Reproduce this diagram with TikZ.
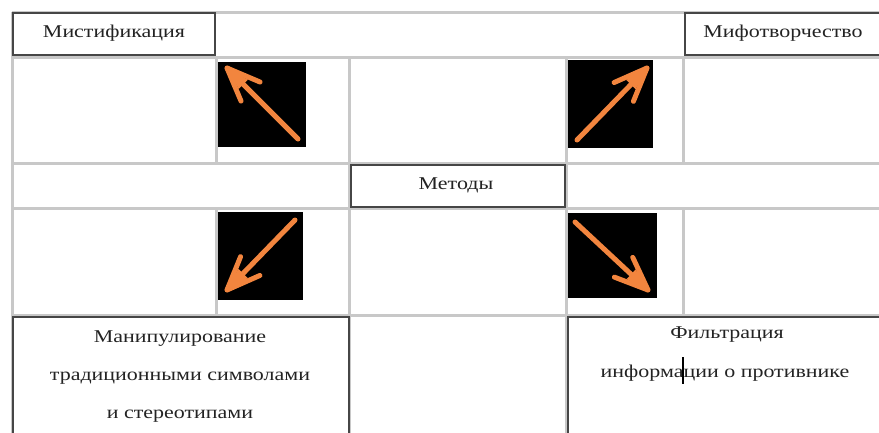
\documentclass[tikz,border=0pt]{standalone}
\usepackage{fontspec}
\newfontfamily\wfont[FakeStretch=1.22]{Liberation Serif}
\usetikzlibrary{calc}
\definecolor{gridgray}{RGB}{200,200,200}
\definecolor{boxgray}{RGB}{70,70,70}
\definecolor{txtgray}{RGB}{35,35,35}
\definecolor{arrorange}{RGB}{242,133,62}
\tikzset{
  gridline/.style={draw=gridgray, line width=3pt},
  cellbox/.style={draw=boxgray, fill=white, line width=1.8pt, rectangle, inner sep=0pt},
  lbl/.style={anchor=base, inner sep=0pt, text=txtgray, font=\wfont\fontsize{18}{20}\selectfont},
  iconsq/.style={fill=black, draw=none, rectangle, inner sep=0pt},
  shaft/.style={draw=arrorange, line width=5pt, line cap=round, line join=round},
}
\begin{document}
\begin{tikzpicture}[x=1pt,y=-1pt]
\useasboundingbox (0,0) rectangle (879,432);
\fill[white] (0,0) rectangle (879,432);
\clip (0,0) rectangle (879,432);
% grid
\foreach \yy in {12,57,163,208,315} \draw[gridline] (12,\yy) -- (880,\yy);
\draw[gridline] (12,12) -- (12,433);
\draw[gridline] (216,57) -- (216,163);
\draw[gridline] (216,208) -- (216,315);
\draw[gridline] (349,57) -- (349,433);
\draw[gridline] (566,57) -- (566,433);
\draw[gridline] (683,57) -- (683,163);
\draw[gridline] (683,208) -- (683,315);
% boxes
\node[cellbox, minimum width=202pt, minimum height=42pt] (bmist) at (114,34) {};
\node[cellbox, minimum width=200pt, minimum height=42pt] (bmif) at (785,34) {};
\node[cellbox, minimum width=214pt, minimum height=42pt] (bmet) at (458,186) {};
\node[cellbox, minimum width=336pt, minimum height=130pt] (bman) at (181,382) {};
\node[cellbox, minimum width=320pt, minimum height=130pt] (bfil) at (728,382) {};
% labels
\node[lbl] (tmist) at (114,37) {Мистификация};
\node[lbl] (tmif) at (783,37) {Мифотворчество};
\node[lbl] (tmet) at (456,189) {Методы};
\node[lbl] (tman1) at (180,342) {Манипулирование};
\node[lbl] (tman2) at (180,380) {традиционными символами};
\node[lbl] (tman3) at (180,418) {и стереотипами};
\node[lbl] (tfil1) at (727,338) {Фильтрация};
\node[lbl] (tfil2) at (725,377) {информации о противнике};
\draw[black, line width=2.5pt] (683,357) -- (683,384);
% icon squares
\node[iconsq, minimum width=88pt, minimum height=85pt] (sq1) at (262,104.5) {};
\node[iconsq, minimum width=85pt, minimum height=88pt] (sq2) at (610.5,104) {};
\node[iconsq, minimum width=85pt, minimum height=88pt] (sq3) at (260.5,256) {};
\node[iconsq, minimum width=89pt, minimum height=85pt] (sq4) at (612.5,255.5) {};
% arrow end points
\coordinate (tip1) at (227,68);  \coordinate (tail1) at (298,139);
\coordinate (tip2) at (647,68);  \coordinate (tail2) at (577,140);
\coordinate (tip3) at (227,290); \coordinate (tail3) at (295,220);
\coordinate (tip4) at (648,290); \coordinate (tail4) at (575,222);
\foreach \i in {1,2,3,4}{
  \coordinate (ba\i) at ($(tip\i)!36pt!22:(tail\i)$);
  \coordinate (bb\i) at ($(tip\i)!36pt!-22:(tail\i)$);
  \coordinate (fa\i) at ($(tip\i)!24pt!16:(tail\i)$);
  \coordinate (fb\i) at ($(tip\i)!24pt!-16:(tail\i)$);
  \fill[arrorange] (tip\i) -- (fa\i) -- (fb\i) -- cycle;
  \draw[shaft] (tail\i) -- (tip\i);
  \draw[shaft] (ba\i) -- (tip\i) -- (bb\i);
}
\end{tikzpicture}
\end{document}
